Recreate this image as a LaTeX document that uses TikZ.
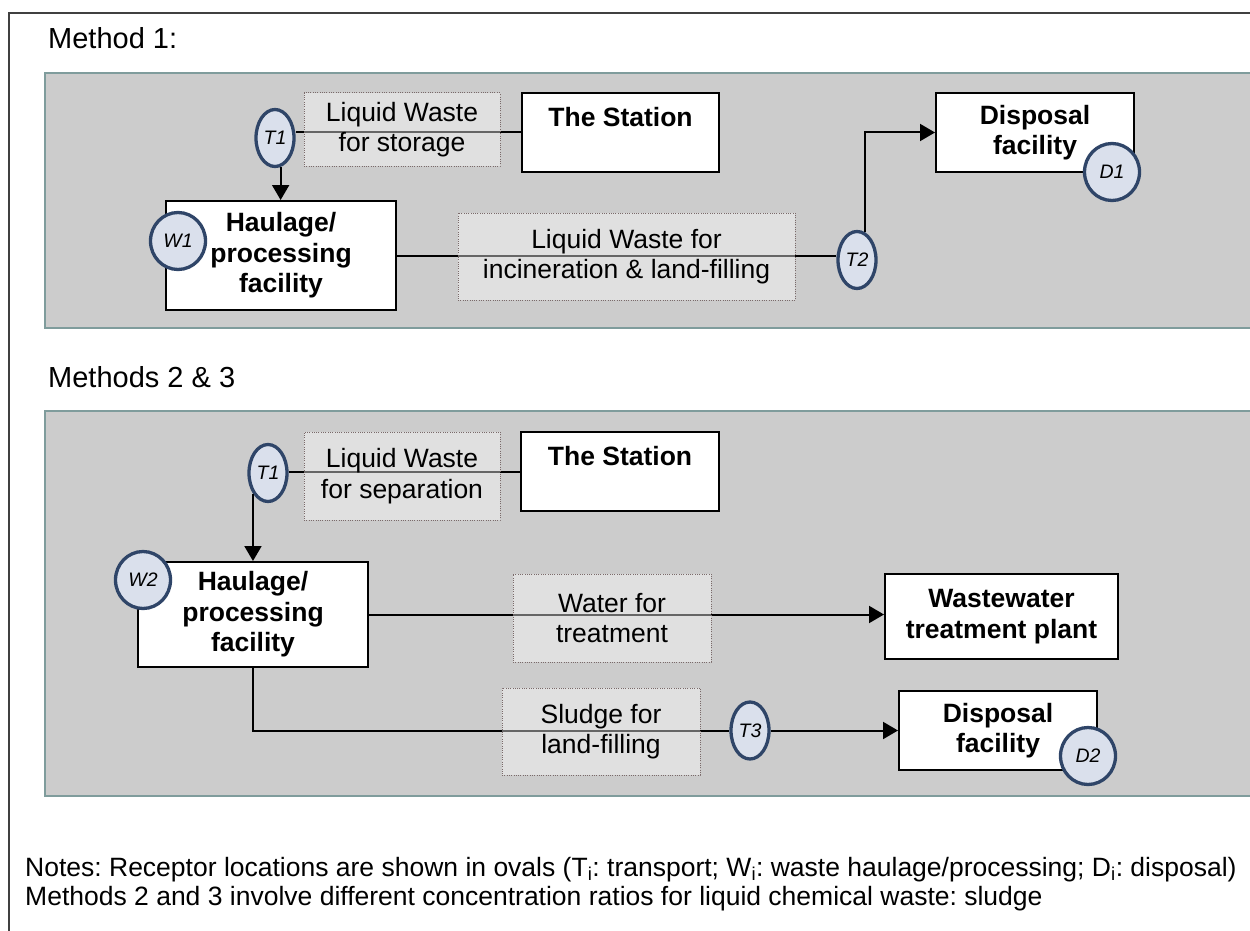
\documentclass[tikz,border=0pt]{standalone}
\usepackage{fontspec}
\setmainfont{Liberation Sans}
\usepackage{tikz}
\usetikzlibrary{arrows.meta,positioning,calc,shapes.geometric}
\definecolor{panelgrey}{HTML}{CCCCCC}
\definecolor{paneledge}{HTML}{7F9C9C}
\definecolor{framegrey}{HTML}{404040}
\definecolor{recnavy}{HTML}{2F4568}
\definecolor{recfill}{HTML}{DAE0EC}
\definecolor{dotbrown}{HTML}{7A6A6A}
\newcommand{\boxfont}{\fontsize{26.5}{30.5}\selectfont}
\newcommand{\recfont}{\fontsize{19.5}{22}\selectfont}
\frenchspacing

\begin{document}
\begin{tikzpicture}[x=1pt,y=-1pt,
  panel/.style={fill=panelgrey,draw=paneledge,line width=1.5pt},
  facility/.style={draw=black,fill=white,line width=2pt,inner sep=0pt,
    align=center,font=\boxfont\bfseries},
  receptor/.style={ellipse,draw=recnavy,fill=recfill,line width=3.3pt,
    inner sep=0pt,font=\recfont\itshape},
  flowlabel/.style={draw=dotbrown,line width=1pt,dash pattern=on 1pt off 1.3pt,
    fill=white,fill opacity=0.4,text opacity=1,inner sep=0pt,align=center,
    font=\boxfont},
  flow/.style={line width=2pt},
  flowarrow/.style={flow,-{Triangle[length=15pt,width=17pt]}},
  title/.style={anchor=base west,inner sep=0pt,font=\fontsize{29}{33}\selectfont},
  note/.style={anchor=base west,inner sep=0pt,font=\fontsize{26.5}{29}\selectfont}]
  \useasboundingbox (0,0) rectangle (1250,931);
  % cadre et fonds
  \draw[framegrey,line width=2.5pt] (9,13) rectangle (1270,960);
  \draw[panel] (45,73) rectangle (1270,328);
  \draw[panel] (45,411) rectangle (1270,796);
  \node[title] (m1) at (48,49) {Method 1:};
  \node[title] (m23) at (48,387) {Methods 2 \& 3};

  % methode 1
  \node[facility,minimum width=197pt,minimum height=79pt] (st1) at (620.5,132.5) {The Station\\~};
  \node[facility,minimum width=198pt,minimum height=79pt] (dis1) at (1035,132.5) {Disposal\\facility};
  \node[facility,minimum width=230pt,minimum height=109pt] (hp1) at (281,255.5) {Haulage/\\processing\\facility};
  \node[receptor,minimum width=38pt,minimum height=57pt] (t1a) at (275,138) {T1};
  \node[receptor,minimum width=55pt,minimum height=57pt] (w1) at (178,241) {W1};
  \node[receptor,minimum width=38pt,minimum height=57pt] (t2) at (857,260) {T2};
  \node[receptor,minimum width=55pt,minimum height=57pt] (d1) at (1112,172) {D1};
  \draw[flow] (t1a.east |- st1.west) -- (st1.west);
  \draw[flowarrow] (t1a.281) -- (t1a.281 |- hp1.north);
  \draw[flow] (hp1.east) -- (hp1.east -| t2.west);
  \draw[flowarrow] (t2.74) |- (dis1.west);
  \node[flowlabel,minimum width=196pt,minimum height=73pt] (lw1) at (402,129.5) {Liquid Waste\\for storage};
  \node[flowlabel,minimum width=337pt,minimum height=87pt] (lw2) at (626.5,256.5) {Liquid Waste for\\incineration \& land-filling};

  % methodes 2 et 3
  \node[facility,minimum width=198pt,minimum height=79pt] (st2) at (620,471.5) {The Station\\~};
  \node[facility,minimum width=230pt,minimum height=105pt] (hp2) at (253,614.5) {Haulage/\\processing\\facility};
  \node[facility,minimum width=233pt,minimum height=85pt] (wtp) at (1001.5,616.5) {Wastewater\\treatment plant};
  \node[facility,minimum width=198pt,minimum height=79pt] (dis2) at (998,730.5) {Disposal\\facility};
  \node[receptor,minimum width=38pt,minimum height=57pt] (t1b) at (268,473) {T1};
  \node[receptor,minimum width=55pt,minimum height=57pt] (w2) at (143,580) {W2};
  \node[receptor,minimum width=38pt,minimum height=57pt] (t3) at (750,730.5) {T3};
  \node[receptor,minimum width=55pt,minimum height=57pt] (d2) at (1088,756) {D2};
  \draw[flow] (t1b.east |- st2.west) -- (st2.west);
  \draw[flowarrow] (t1b.234) -- (t1b.234 |- hp2.north);
  \draw[flowarrow] (hp2.east) -- (hp2.east -| wtp.west);
  \draw[flow] (hp2.south) |- (t3.west);
  \draw[flowarrow] (t3.east) -- (dis2.west);
  \node[flowlabel,minimum width=196pt,minimum height=88pt] (lw3) at (402,476) {Liquid Waste\\for separation};
  \node[flowlabel,minimum width=198pt,minimum height=88pt] (wt) at (612,618) {Water for\\treatment};
  \node[flowlabel,minimum width=198pt,minimum height=87pt] (sl) at (601,731.5) {Sludge for\\land-filling};

  % notes
  \node[note] (n1) at (25,876)
    {Notes: Receptor locations are shown in ovals (T\textsubscript{i}: transport; W\textsubscript{i}: waste haulage/processing; D\textsubscript{i}: disposal)};
  \node[note] (n2) at (25,905)
    {Methods 2 and 3 involve different concentration ratios for liquid chemical waste: sludge};
\end{tikzpicture}
\end{document}
